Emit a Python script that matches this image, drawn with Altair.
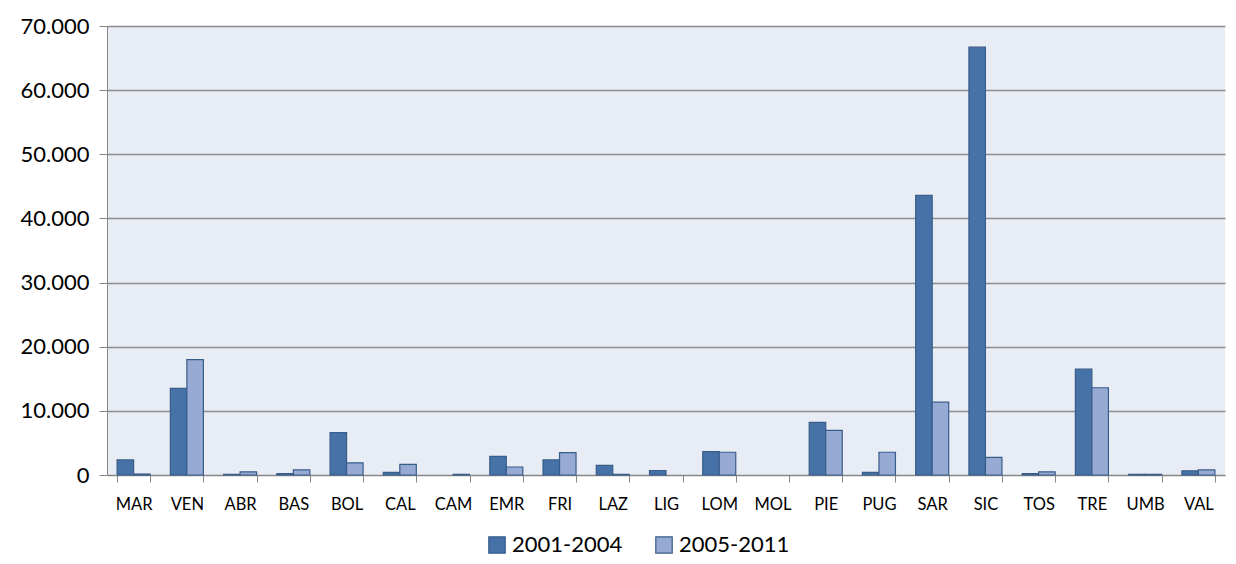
import altair as alt
import pandas as pd

regions = ["MAR", "VEN", "ABR", "BAS", "BOL", "CAL", "CAM", "EMR", "FRI", "LAZ", "LIG",
           "LOM", "MOL", "PIE", "PUG", "SAR", "SIC", "TOS", "TRE", "UMB", "VAL"]
series = ["2001-2004", "2005-2011"]
v_2001_2004 = [2350, 13500, 100, 200, 6600, 400, 0, 2900, 2350, 1500, 700,
               3650, 0, 8200, 400, 43600, 66700, 200, 16500, 100, 650]
v_2005_2011 = [150, 18000, 500, 800, 1900, 1650, 100, 1250, 3500, 100, 0,
               3550, 0, 6950, 3550, 11350, 2750, 500, 13600, 100, 800]
y_ticks = [0, 10000, 20000, 30000, 40000, 50000, 60000, 70000]

rows = []
for i, r in enumerate(regions):
    rows.append({"region": r, "period": series[0], "value": v_2001_2004[i]})
    rows.append({"region": r, "period": series[1], "value": v_2005_2011[i]})
df = pd.DataFrame(rows)

FONT = "Lato"

chart = alt.Chart(df).mark_bar(strokeWidth=1.2).encode(
    x=alt.X("region:N", sort=regions, title=None,
            scale=alt.Scale(paddingInner=0.38, paddingOuter=0.19),
            axis=alt.Axis(labelAngle=0, tickBand="extent", tickSize=7, tickColor="#868686",
                          domainColor="#868686", labelFontSize=16.5, labelColor="#000000",
                          labelPadding=14, grid=False)),
    xOffset=alt.XOffset("period:N", sort=series, scale=alt.Scale(paddingInner=0, paddingOuter=0)),
    y=alt.Y("value:Q", title=None,
            scale=alt.Scale(domain=[0, 70000], nice=False),
            axis=alt.Axis(values=y_ticks, tickSize=8, tickColor="#868686",
                          domainColor="#868686", gridColor="#8c8c8c", gridWidth=1.3,
                          labelFontSize=22, labelColor="#000000", labelPadding=10,
                          labelExpr="datum.value == 0 ? '0' : format(datum.value / 1000, 'd') + '.000'")),
    fill=alt.Color("period:N", sort=series, title=None,
                   scale=alt.Scale(domain=series, range=["#4672A8", "#96AAD4"]),
                   legend=alt.Legend(orient="none", legendX=379, legendY=508, direction="horizontal",
                                     symbolType="square", symbolSize=270, symbolStrokeWidth=1.2,
                                     symbolStrokeColor="#385D8A",
                                     labelFontSize=22, labelColor="#000000", columnPadding=30,
                                     labelOffset=4)),
    stroke=alt.value("#385D8A"),
    strokeOpacity=alt.condition("datum.value > 0", alt.value(1), alt.value(0)),
).properties(
    width=1118,
    height=449,
    autosize=alt.AutoSizeParams(type="none"),
    padding={"left": 99, "top": 18, "right": 3, "bottom": 81},
).configure(
    font=FONT,
).configure_view(
    fill="#E8ECF4",
    stroke=None,
)

chart.save("out.html", embed_options={"renderer": "svg", "actions": False})
